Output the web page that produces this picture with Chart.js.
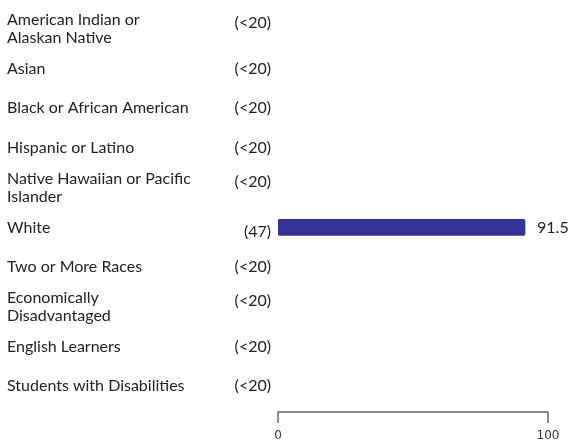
<!DOCTYPE html>
<html>
<head>
<meta charset="utf-8">
<script src="https://cdn.jsdelivr.net/npm/chart.js@4"></script>
<style>
html,body{margin:0;padding:0;background:#fff;}
#wrap{width:568px;height:442px;position:relative;}
</style>
</head>
<body>
<div id="wrap"><canvas id="c"></canvas></div>
<script>
const categories = [
  ["American Indian or", "Alaskan Native"],
  "Asian",
  "Black or African American",
  "Hispanic or Latino",
  ["Native Hawaiian or Pacific", "Islander"],
  "White",
  "Two or More Races",
  ["Economically", "Disadvantaged"],
  "English Learners",
  "Students with Disabilities"
];
const values = [null, null, null, null, null, 91.5, null, null, null, null];
const counts = ["(<20)", "(<20)", "(<20)", "(<20)", "(<20)", "(47)", "(<20)", "(<20)", "(<20)", "(<20)"];
const xTicks = [0, 100];

const labelFont = '16px Lato, "Open Sans", sans-serif';

const annotate = {
  id: 'annotate',
  afterDraw(chart) {
    const ctx = chart.ctx;
    const xs = chart.scales.x, ys = chart.scales.y;
    ctx.save();
    ctx.font = labelFont;
    ctx.fillStyle = '#222';
    ctx.textBaseline = 'middle';
    counts.forEach((c, i) => {
      const y = ys.getPixelForValue(i);
      let dy = 0;
      if (Array.isArray(categories[i])) dy = -6;
      if (values[i] !== null) dy = 4;
      ctx.textAlign = 'right';
      ctx.fillText(c, 271, y + dy);
    });
    values.forEach((v, i) => {
      if (v === null) return;
      const y = ys.getPixelForValue(i);
      ctx.textAlign = 'left';
      ctx.fillText(v.toFixed(1), xs.getPixelForValue(v) + 12, y);
    });
    const y0 = chart.chartArea.bottom + 6;
    const x0 = xs.getPixelForValue(xTicks[0]);
    const x1 = xs.getPixelForValue(xTicks[xTicks.length - 1]);
    ctx.strokeStyle = '#666';
    ctx.lineWidth = 1.5;
    ctx.beginPath();
    ctx.moveTo(x0, y0 + 11);
    ctx.lineTo(x0, y0);
    ctx.lineTo(x1, y0);
    ctx.lineTo(x1, y0 + 11);
    ctx.stroke();
    ctx.restore();
  }
};

new Chart(document.getElementById('c'), {
  type: 'bar',
  data: {
    labels: categories,
    datasets: [{
      data: values,
      backgroundColor: '#333399',
      borderRadius: 2,
      borderSkipped: false,
      barThickness: 16
    }]
  },
  options: {
    indexAxis: 'y',
    responsive: true,
    maintainAspectRatio: false,
    animation: false,
    layout: { padding: { left: 7, right: 20, top: 6, bottom: 0 } },
    plugins: { legend: { display: false }, tooltip: { enabled: false } },
    scales: {
      x: {
        min: 0, max: 100,
        afterBuildTicks(scale) { scale.ticks = xTicks.map(v => ({ value: v })); },
        afterFit(scale) { scale.height = 36; },
        grid: { display: false, drawTicks: true, tickLength: 22 },
        border: { display: false },
        ticks: {
          padding: 1,
          color: '#333',
          font: { family: 'Verdana, "DejaVu Sans", sans-serif', size: 12 },
          maxRotation: 0
        }
      },
      y: {
        afterFit(scale) { scale.width = 271; },
        grid: { display: false, drawTicks: false },
        border: { display: false },
        ticks: {
          crossAlign: 'far',
          padding: 0,
          color: '#222',
          font: { family: 'Lato, "Open Sans", sans-serif', size: 16, lineHeight: 1.125 }
        }
      }
    }
  },
  plugins: [annotate]
});
</script>
</body>
</html>
